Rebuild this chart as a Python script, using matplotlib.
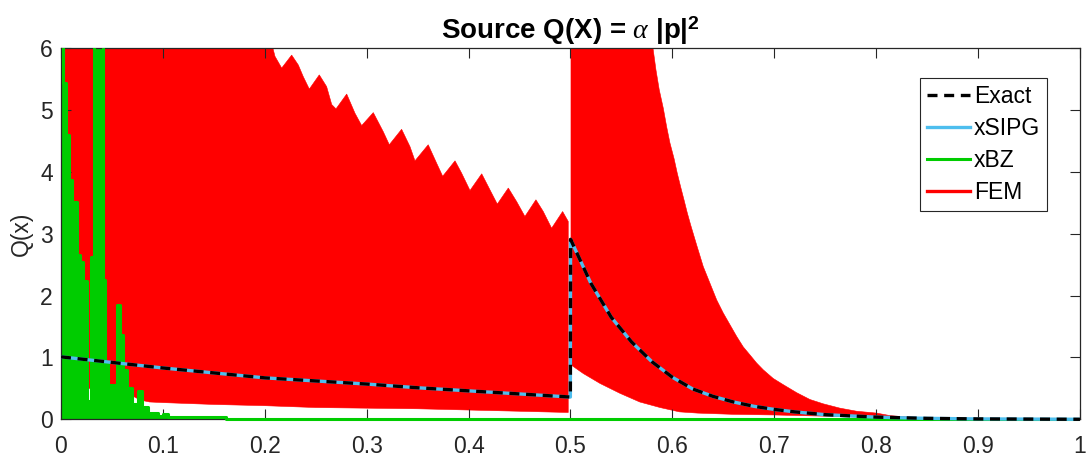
import numpy as np
import matplotlib
matplotlib.use('Agg')
import matplotlib.pyplot as plt
from matplotlib.lines import Line2D
from matplotlib.patches import Rectangle

# exact source term (xSIPG lies on top of it)
EXACT_X = [0.0, 0.05, 0.1, 0.15, 0.2, 0.25, 0.3, 0.35, 0.4, 0.45, 0.4999,
           0.5001, 0.52, 0.54, 0.56, 0.58, 0.60, 0.62, 0.64, 0.66, 0.68, 0.70,
           0.72, 0.75, 0.80, 0.85, 0.90, 0.95, 1.0]
EXACT_Q = [1.01, 0.92, 0.83, 0.75, 0.67, 0.62, 0.57, 0.51, 0.46, 0.41, 0.36,
           2.91, 2.20, 1.65, 1.25, 0.93, 0.68, 0.49, 0.37, 0.28, 0.21, 0.16,
           0.12, 0.075, 0.035, 0.015, 0.006, 0.003, 0.0]
SIPG_X = EXACT_X
SIPG_Q = EXACT_Q

# xBZ: upper envelope of the oscillation, piecewise constant
BZ_X = [0.0, 0.002, 0.005, 0.008, 0.011, 0.0154, 0.0186, 0.0219, 0.0252, 0.029,
        0.032, 0.0412, 0.0432, 0.0461, 0.055, 0.058, 0.061, 0.065, 0.070, 0.0756,
        0.0795, 0.085, 0.095, 0.100, 0.105, 0.155, 0.162, 1.0]
BZ_Q = [6.5, 5.44, 4.60, 3.87, 3.52, 2.66, 2.55, 2.23, 0.30, 2.63,
        6.5, 2.25, 0.90, 0.55, 1.85, 1.36, 0.80, 0.50, 0.25, 0.45,
        0.20, 0.10, 0.06, 0.08, 0.03, 0.045, 0.01, 0.01]

# FEM: envelopes of the oscillating solution, left and right of the interface
FEM_L_HI_X = [0.0, 0.205, 0.208, 0.210, 0.2166, 0.2264, 0.2329, 0.2378, 0.2437,
              0.2535, 0.2607, 0.2657, 0.2699, 0.2804, 0.2885, 0.2951, 0.3065,
              0.3163, 0.3222, 0.3343, 0.3425, 0.3474, 0.3604, 0.3687, 0.3746,
              0.3867, 0.3932, 0.4014, 0.4129, 0.4210, 0.4282, 0.4390, 0.4472,
              0.4553, 0.4661, 0.4733, 0.4815, 0.4923, 0.4978]
FEM_L_HI_Q = [6.6, 6.3, 6.0, 5.87, 5.68, 5.89, 5.73, 5.54, 5.34,
              5.57, 5.38, 5.09, 5.02, 5.26, 4.95, 4.75, 4.96,
              4.65, 4.44, 4.69, 4.41, 4.18, 4.44, 4.14, 3.93,
              4.18, 3.98, 3.70, 3.97, 3.71, 3.48, 3.74, 3.52,
              3.28, 3.55, 3.36, 3.09, 3.36, 3.20]
FEM_L_LO_X = [0.0, 0.047, 0.06, 0.07, 0.078, 0.087, 0.1, 0.15, 0.2, 0.25,
              0.3, 0.35, 0.4, 0.45, 0.4978]
FEM_L_LO_Q = [0.5, 0.5, 0.45, 0.38, 0.31, 0.28, 0.27, 0.24, 0.22, 0.19,
              0.18, 0.17, 0.15, 0.13, 0.11]

FEM_R_HI_X = [0.5005, 0.581, 0.5839, 0.5871, 0.5911, 0.5944, 0.5976, 0.6016,
              0.6048, 0.6081, 0.6114, 0.6146, 0.6180, 0.6238, 0.6303, 0.6369,
              0.6435, 0.6499, 0.6565, 0.6631, 0.6696, 0.6762, 0.6827, 0.6892,
              0.6990, 0.7088, 0.7220, 0.7350, 0.7481, 0.7645, 0.7809, 0.8005,
              0.8135, 0.835, 0.866]
FEM_R_HI_Q = [6.6, 6.0, 5.65, 5.33, 5.03, 4.73, 4.47, 4.22,
              3.98, 3.76, 3.55, 3.34, 3.14, 2.82, 2.47, 2.20,
              1.93, 1.72, 1.53, 1.34, 1.17, 1.04, 0.91, 0.80,
              0.66, 0.56, 0.43, 0.32, 0.25, 0.18, 0.13, 0.10,
              0.06, 0.03, 0.01]
FEM_R_LO_X = [0.5005, 0.5126, 0.529, 0.5486, 0.568, 0.588, 0.607, 0.625, 0.66,
              0.70, 0.75, 0.80, 0.85, 0.866]
FEM_R_LO_Q = [0.88, 0.74, 0.58, 0.42, 0.28, 0.19, 0.12, 0.10, 0.08,
              0.07, 0.05, 0.03, 0.015, 0.01]

XTICKS = [0, 0.1, 0.2, 0.3, 0.4, 0.5, 0.6, 0.7, 0.8, 0.9, 1]
XTICK_LABELS = ['0', '0.1', '0.2', '0.3', '0.4', '0.5', '0.6', '0.7', '0.8', '0.9', '1']
YTICKS = [0, 1, 2, 3, 4, 5, 6]

RED = '#FF0000'
GREEN = '#00CC00'
BLUE = '#4DBEEE'
AX_COLOR = '#262626'


def envelope(ax, hi_x, hi_q, lo_x, lo_q, color):
    px = np.concatenate([hi_x, lo_x[::-1]])
    py = np.concatenate([hi_q, lo_q[::-1]])
    ax.fill(px, py, facecolor=color, edgecolor=color, lw=0.4, zorder=1)


def main():
    plt.rcParams['font.family'] = ['Liberation Sans', 'DejaVu Sans']
    plt.rcParams['mathtext.fontset'] = 'custom'
    plt.rcParams['mathtext.rm'] = 'Liberation Sans:bold'
    plt.rcParams['mathtext.bf'] = 'Liberation Sans:bold'
    plt.rcParams['mathtext.it'] = 'Liberation Serif:italic'

    fig = plt.figure(figsize=(10.89, 4.63), dpi=100)
    ax = fig.add_axes([0.056, 0.0944, 0.9357, 0.8013])

    envelope(ax, FEM_L_HI_X, FEM_L_HI_Q, FEM_L_LO_X, FEM_L_LO_Q, RED)
    envelope(ax, FEM_R_HI_X, FEM_R_HI_Q, FEM_R_LO_X, FEM_R_LO_Q, RED)

    # a bit of room below the x axis so the flat curves are not cut in half
    below = Rectangle((0, -0.02), 1, 1.02, transform=ax.transAxes)

    bz_x = np.array(BZ_X)
    bz_q = np.array(BZ_Q)
    ax.fill_between(bz_x, 0, bz_q, step='post', facecolor=GREEN, lw=0, zorder=2)
    bz_line, = ax.plot(bz_x, bz_q, drawstyle='steps-post', color=GREEN, lw=2.2,
                       zorder=3)
    bz_line.set_clip_path(below)

    sipg_line, = ax.plot(SIPG_X, SIPG_Q, color=BLUE, lw=2.4, zorder=4)
    sipg_line.set_clip_path(below)
    exact_line, = ax.plot(EXACT_X, EXACT_Q, color='black', lw=2.4,
                          dashes=(3, 2), zorder=5)
    exact_line.set_clip_path(below)

    ax.set_xlim(0, 1)
    ax.set_ylim(0, 6)
    ax.set_xticks(XTICKS)
    ax.set_xticklabels(XTICK_LABELS)
    ax.set_yticks(YTICKS)
    ax.tick_params(direction='in', top=True, right=True, length=7.5, width=0.8,
                   colors=AX_COLOR, labelsize=16.5)
    ax.tick_params(axis='x', pad=11)
    ax.tick_params(axis='y', pad=6)
    for sp in ax.spines.values():
        sp.set_color(AX_COLOR)
        sp.set_linewidth(0.9)

    ax.set_ylabel('Q(x)', fontsize=16.5, color=AX_COLOR, labelpad=5)
    ax.set_title(r'Source Q(X) = $\alpha$ $|\mathbf{p}|^{\mathbf{2}}$',
                 fontsize=20, fontweight='bold', pad=7)

    fem_handle = Line2D([], [], color=RED, lw=2.4)
    leg = ax.legend([exact_line, sipg_line, bz_line, fem_handle],
                    ['Exact', 'xSIPG', 'xBZ', 'FEM'],
                    loc='upper right', bbox_to_anchor=(0.9676, 0.92),
                    borderaxespad=0, fontsize=16.5, handlelength=1.9,
                    handletextpad=0.15, labelspacing=0.4, borderpad=0.3,
                    fancybox=False, framealpha=1)
    leg.get_frame().set_edgecolor(AX_COLOR)
    leg.get_frame().set_linewidth(0.8)

    fig.savefig('out.png', dpi=100)


if __name__ == '__main__':
    main()
